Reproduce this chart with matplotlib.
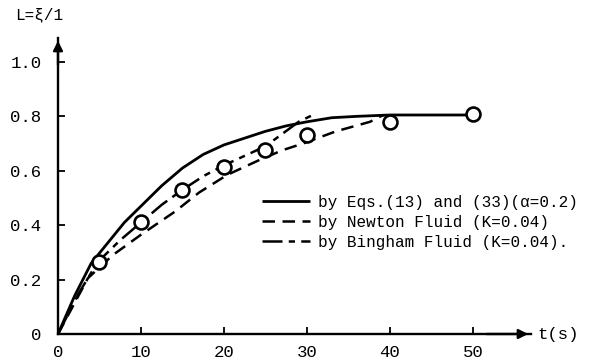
import matplotlib
matplotlib.use('Agg')
import matplotlib.pyplot as plt

# observed data (circles)
t_obs = [5, 10, 15, 20, 25, 30, 40, 50]
L_obs = [0.265, 0.41, 0.53, 0.615, 0.675, 0.73, 0.78, 0.81]

# by Eqs.(13) and (33) (alpha=0.2)
t_eq = [0, 2, 4, 6, 8, 10, 12.5, 15, 17.5, 20, 22.5, 25, 27.5, 30, 33, 36, 40, 45, 50]
L_eq = [0, 0.14, 0.26, 0.335, 0.41, 0.47, 0.545, 0.61, 0.66, 0.695, 0.72, 0.745, 0.765, 0.78, 0.795, 0.80, 0.805, 0.805, 0.805]

# by Newton Fluid (K=0.04)
t_nw = [0, 3.6, 6.6, 10, 14.1, 17, 20.4, 24.3, 27, 29.5, 33.5, 37.6, 39.2]
L_nw = [0, 0.205, 0.29, 0.365, 0.45, 0.52, 0.585, 0.64, 0.675, 0.70, 0.745, 0.78, 0.805]

# by Bingham Fluid (K=0.04)
t_bg = [0, 2.5, 4.8, 7.5, 10, 12.5, 15, 17.5, 20, 22.5, 25, 27, 29, 30.7]
L_bg = [0, 0.15, 0.265, 0.345, 0.41, 0.475, 0.53, 0.58, 0.62, 0.655, 0.69, 0.735, 0.78, 0.805]

x_ticks = [0, 10, 20, 30, 40, 50]
x_labels = ["0", "10", "20", "30", "40", "50"]
y_ticks = [0, 0.2, 0.4, 0.6, 0.8, 1.0]
y_labels = ["0", "0.2", "0.4", "0.6", "0.8", "1.0"]

labels = ["by Eqs.(13) and (33)(α=0.2)",
          "by Newton Fluid (K=0.04)",
          "by Bingham Fluid (K=0.04)."]

FONT = 'Liberation Mono'
FS = 11.5
FS_TICK = 12.5

fig = plt.figure(figsize=(5.93, 3.63), dpi=100)
ax = fig.add_axes([58/593, 29/363, 473/593, 296/363])
ax.set_xlim(0, 57)
ax.set_ylim(0, 1.088)

l1, = ax.plot(t_eq, L_eq, color='black', lw=2.0, solid_capstyle='butt')
l2, = ax.plot(t_nw, L_nw, color='black', lw=1.8, linestyle=(0, (5, 3)))
l3, = ax.plot(t_bg, L_bg, color='black', lw=1.8, linestyle=(0, (8, 2.5, 2.5, 2.5)))
ax.plot(t_obs, L_obs, linestyle='none', marker='o', markersize=10,
        markerfacecolor='white', markeredgecolor='black', markeredgewidth=1.9, zorder=5)

for s in ['top', 'right']:
    ax.spines[s].set_visible(False)
for s in ['left', 'bottom']:
    ax.spines[s].set_linewidth(1.7)

ax.annotate('', xy=(1.0, 0), xytext=(0.9, 0), xycoords='axes fraction',
            arrowprops=dict(arrowstyle='-|>', lw=1.7, color='black', mutation_scale=14))
ax.annotate('', xy=(0, 1.0), xytext=(0, 0.9), xycoords='axes fraction',
            arrowprops=dict(arrowstyle='-|>', lw=1.7, color='black', mutation_scale=14))

ax.set_xticks(x_ticks)
ax.set_xticklabels(x_labels, fontfamily=FONT, fontsize=FS_TICK)
ax.set_yticks(y_ticks)
ax.set_yticklabels(y_labels, fontfamily=FONT, fontsize=FS_TICK)
ax.tick_params(axis='both', direction='in', length=5, width=1.3)
ax.tick_params(axis='x', pad=8)
ax.tick_params(axis='y', pad=12)

fig.text(15/593, 1 - 15/363, "L=ξ/1", fontfamily=FONT, fontsize=FS, ha='left', va='center')
fig.text(537/593, 1 - 334/363, "t(s)", fontfamily=FONT, fontsize=FS_TICK, ha='left', va='center')

ax.legend([l1, l2, l3], labels, loc='upper left', bbox_to_anchor=(262/593, 1 - 195/363),
          bbox_transform=fig.transFigure, frameon=False, borderpad=0, borderaxespad=0,
          handlelength=3.0, handletextpad=0.5, labelspacing=0.3,
          prop={'family': FONT, 'size': FS})

fig.savefig('out.png', dpi=100)
